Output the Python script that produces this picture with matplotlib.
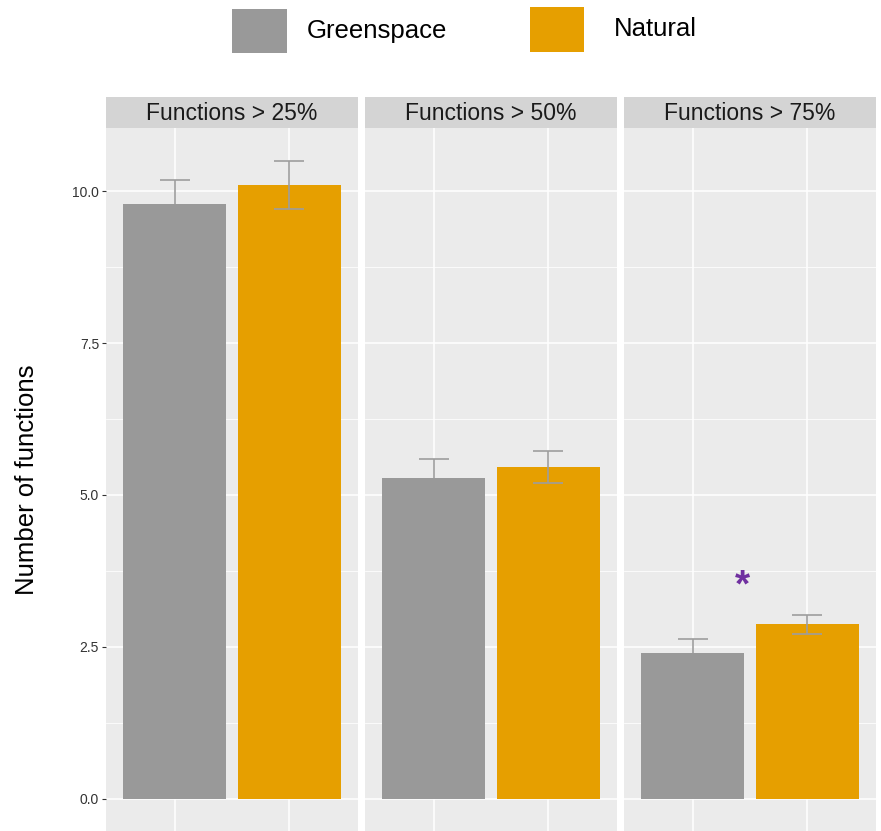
import matplotlib.pyplot as plt
import numpy as np
from matplotlib.patches import Rectangle

plt.rcParams['font.family'] = ['Liberation Sans', 'DejaVu Sans']

# mean number of functions and standard errors per threshold
panels = ['Functions > 25%', 'Functions > 50%', 'Functions > 75%']
groups = ['Greenspace', 'Natural']
greenspace = [9.79, 5.28, 2.40]
greenspace_se = [0.40, 0.31, 0.23]
natural = [10.10, 5.46, 2.87]
natural_se = [0.39, 0.26, 0.16]
# significance marker (panel index, height)
sig_panel = 2
sig_y = 3.5

grey = '#999999'
orange = '#E69F00'
err_col = '#9D9D9D'
bg = '#EBEBEB'
strip_bg = '#D4D4D4'

W, H = 881, 831
fig = plt.figure(figsize=(W / 100, H / 100), dpi=100)

lefts = [106, 365, 624]
pw = 252
top = 128
strip_h = 31

for i, name in enumerate(panels):
    ax = fig.add_axes([lefts[i] / W, 0, pw / W, 1 - top / H])
    ax.set_facecolor(bg)
    for s in ax.spines.values():
        s.set_visible(False)

    ax.bar(1, greenspace[i], width=0.9, color=grey, zorder=3)
    ax.bar(2, natural[i], width=0.9, color=orange, zorder=3)
    # greenspace whiskers sit behind their bar, natural ones in front
    ax.errorbar(1, greenspace[i], yerr=greenspace_se[i], fmt='none',
                ecolor=err_col, elinewidth=1.2, capsize=11, capthick=1.2,
                zorder=2)
    ax.errorbar(2, natural[i], yerr=natural_se[i], fmt='none',
                ecolor=err_col, elinewidth=1.2, capsize=11, capthick=1.2,
                zorder=4)

    if i == sig_panel:
        ax.text(1.43, sig_y, '*', ha='center', va='center', fontsize=28,
                color='#7030A0', fontweight='bold', zorder=5)

    ax.set_xlim(0.4, 2.6)
    ax.set_ylim(-0.53, 11.04)
    ax.set_yticks([0, 2.5, 5, 7.5, 10])
    ax.set_yticks([1.25, 3.75, 6.25, 8.75], minor=True)
    ax.set_xticks([1, 2])
    ax.grid(which='major', color='white', linewidth=1.1, zorder=0)
    ax.grid(which='minor', axis='y', color='white', linewidth=0.55, zorder=0)
    ax.set_axisbelow(True)
    ax.tick_params(axis='x', length=0, labelbottom=False)
    ax.tick_params(axis='y', which='minor', length=0)
    if i == 0:
        ax.set_yticklabels(['0.0', '2.5', '5.0', '7.5', '10.0'])
        ax.tick_params(axis='y', length=3, color='#333333', labelsize=10,
                       labelcolor='#333333', pad=2)
        ax.set_ylabel('Number of functions', fontsize=18.5, labelpad=24)
    else:
        ax.tick_params(axis='y', length=0, labelleft=False)

    # facet strip
    fig.add_artist(Rectangle((lefts[i] / W, 1 - top / H), pw / W, strip_h / H,
                             transform=fig.transFigure, facecolor=strip_bg,
                             edgecolor='none'))
    fig.text((lefts[i] + pw / 2) / W, 1 - (top - strip_h / 2 + 1) / H, name,
             ha='center', va='center', fontsize=16.5, color='#1A1A1A')

# legend keys along the top
keys = [(232, 9, 55, 44, grey, 307, groups[0]),
        (530, 7, 54, 45, orange, 614, groups[1])]
for kx, ky, kw, kh, col, tx, label in keys:
    fig.add_artist(Rectangle((kx / W, 1 - (ky + kh) / H), kw / W, kh / H,
                             transform=fig.transFigure, facecolor=col,
                             edgecolor='none'))
    fig.text(tx / W, 1 - (ky + kh / 2) / H, label, ha='left', va='center',
             fontsize=18.5, color='black')

fig.savefig('out.png', dpi=100)
